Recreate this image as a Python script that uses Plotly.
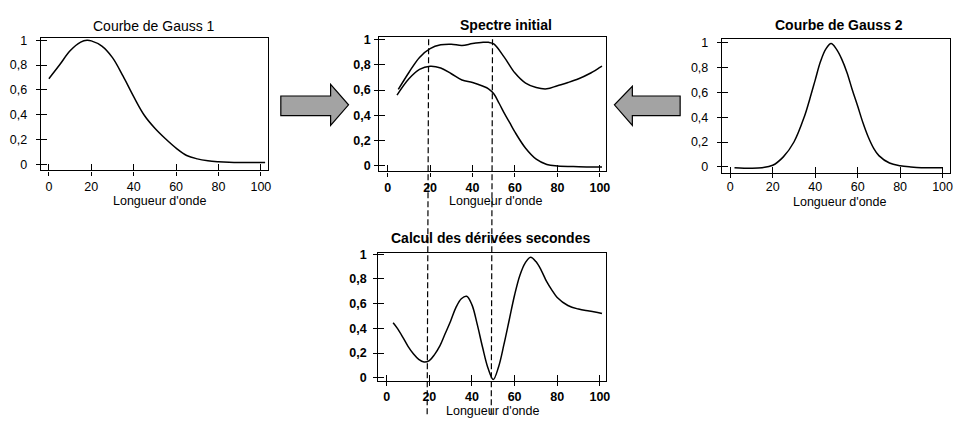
import plotly.graph_objects as go

# ---------------- data ----------------
gauss1_x = [0, 5, 10, 15, 18, 20, 25, 30, 35, 40, 45, 50, 55, 60, 65, 70, 75, 80, 85, 90, 95, 100, 102]
gauss1_y = [0.69, 0.80, 0.915, 0.985, 1.0, 0.995, 0.953, 0.86, 0.71, 0.545, 0.395, 0.29, 0.205, 0.13, 0.07, 0.043, 0.028, 0.02, 0.015, 0.013, 0.013, 0.013, 0.013]

spec_up_x = [5, 10, 15, 20, 25, 30, 35, 40, 45, 47.5, 50, 55, 60, 65, 70, 75, 80, 85, 90, 95, 100, 101]
spec_upper = [0.605, 0.74, 0.86, 0.93, 0.96, 0.965, 0.955, 0.97, 0.98, 0.98, 0.967, 0.86, 0.735, 0.655, 0.62, 0.61, 0.635, 0.66, 0.69, 0.73, 0.78, 0.79]
spec_lo_x = [4.4, 10, 15, 20, 25, 30, 35, 40, 45, 47.5, 50, 52.5, 55, 57.5, 60, 65, 70, 75, 80, 90, 100, 101]
spec_lower = [0.56, 0.69, 0.765, 0.79, 0.776, 0.73, 0.68, 0.66, 0.63, 0.61, 0.57, 0.495, 0.415, 0.34, 0.265, 0.137, 0.05, 0.008, -0.004, -0.01, -0.013, -0.013]

gauss2_x = [2, 10, 15, 20, 25, 30, 35, 37.5, 40, 42.5, 45, 47.5, 50, 52.5, 55, 57.5, 60, 62.5, 65, 67.5, 70, 75, 80, 85, 90, 100]
gauss2_y = [-0.008, -0.012, -0.008, 0.012, 0.08, 0.2, 0.41, 0.55, 0.70, 0.85, 0.95, 0.995, 0.95, 0.87, 0.76, 0.62, 0.49, 0.355, 0.24, 0.15, 0.09, 0.03, 0.008, -0.002, -0.008, -0.008]

deriv_x = [3, 5, 7.5, 10, 12.5, 15, 17.5, 20, 22.5, 25, 27.5, 30, 32.5, 35, 37.5, 40, 42.5, 45, 47.5, 50, 52.5, 55, 57.5, 60, 62.5, 65, 67.5, 70, 72.5, 75, 77.5, 80, 85, 90, 95, 100, 101]
deriv_y = [0.445, 0.40, 0.33, 0.255, 0.195, 0.15, 0.128, 0.14, 0.19, 0.26, 0.36, 0.46, 0.57, 0.64, 0.66, 0.59, 0.43, 0.245, 0.08, -0.013, 0.09, 0.27, 0.47, 0.67, 0.83, 0.93, 0.975, 0.94, 0.87, 0.78, 0.71, 0.65, 0.585, 0.556, 0.54, 0.525, 0.52]

dashed_top_x = [19.3, 49.4]
dashed_bottom_x = [18.6, 48.8]

x_tickvals = [0, 20, 40, 60, 80, 100]
x_ticktext = ["0", "20", "40", "60", "80", "100"]
y_tickvals = [0, 0.2, 0.4, 0.6, 0.8, 1]
y_ticktext = ["0", "0,2", "0,4", "0,6", "0,8", "1"]

titles = ["Courbe de Gauss 1", "Spectre initial", "Courbe de Gauss 2", "Calcul des dérivées secondes"]
xlabel = "Longueur d'onde"

# ---------------- layout helpers ----------------
W, H = 957, 421
def px(x):
    return x / W
def py(y):
    return 1 - y / H

FONT = "Liberation Sans, Arial, sans-serif"

# panels: (left, right, top, bottom) in px, xrange, yrange, bold ticks
panels = [
    dict(box=(41, 269, 34, 169), xr=[-3.8, 103.3], yr=[-0.05, 1.016], bold=False, standoff=6, xstand=0),
    dict(box=(381, 609, 33, 170), xr=[-3.9, 103.1], yr=[-0.047, 1.02], bold=True, standoff=1, xstand=0),
    dict(box=(725, 954, 35, 172), xr=[-3.9, 103.5], yr=[-0.053, 1.03], bold=False, standoff=6, xstand=-2),
    dict(box=(380, 609, 253, 384), xr=[-3.9, 103.1], yr=[-0.024, 1.013], bold=True, standoff=4, xstand=0),
]

fig = go.Figure()

series = [
    [(gauss1_x, gauss1_y)],
    [(spec_up_x, spec_upper), (spec_lo_x, spec_lower)],
    [(gauss2_x, gauss2_y)],
    [(deriv_x, deriv_y)],
]

layout = dict(
    width=W, height=H,
    margin=dict(l=0, r=0, t=0, b=0),
    paper_bgcolor="white", plot_bgcolor="white",
    showlegend=False,
    font=dict(family=FONT, color="black", size=12.5),
)

for i, p in enumerate(panels):
    n = i + 1
    m = i + 5
    sfx = "" if n == 1 else str(n)
    l, r, t, b = p["box"]
    tf = dict(family=FONT, size=12.5, color="black", weight="bold" if p["bold"] else "normal")
    layout["xaxis" + sfx] = dict(
        domain=[px(l), px(r)], anchor="y" + sfx, range=p["xr"],
        showline=True, linecolor="black", linewidth=1.3, mirror=True,
        ticks="outside", ticklen=4, tickwidth=1.3, tickcolor="black",
        tickvals=x_tickvals, ticktext=x_ticktext, tickfont=tf,
        ticklabelstandoff=p["xstand"],
        showgrid=False, zeroline=False, fixedrange=True,
    )
    layout["yaxis" + sfx] = dict(
        domain=[py(b), py(t)], anchor="x" + sfx, range=p["yr"],
        showline=True, linecolor="black", linewidth=1.3, mirror=True,
        ticks="outside", ticklen=4, tickwidth=1.3, tickcolor="black",
        tickvals=y_tickvals, ticktext=y_ticktext, tickfont=tf,
        ticklabelstandoff=p["standoff"],
        showgrid=False, zeroline=False, fixedrange=True,
    )
    # overlay axes for the inner half of the crossing ticks
    layout["xaxis" + str(m)] = dict(
        overlaying="x" + sfx, anchor="y" + str(m), range=p["xr"],
        showline=False, ticks="inside", ticklen=6, tickwidth=1.3, tickcolor="black",
        tickvals=x_tickvals, showticklabels=False,
        showgrid=False, zeroline=False, fixedrange=True,
    )
    layout["yaxis" + str(m)] = dict(
        overlaying="y" + sfx, anchor="x" + str(m), range=p["yr"],
        showline=False, ticks="inside", ticklen=6, tickwidth=1.3, tickcolor="black",
        tickvals=y_tickvals, showticklabels=False,
        showgrid=False, zeroline=False, fixedrange=True,
    )
    for xs, ys in series[i]:
        fig.add_trace(go.Scatter(
            x=xs, y=ys, mode="lines",
            line=dict(color="black", width=1.5, shape="spline", smoothing=1.0),
            xaxis="x" + sfx, yaxis="y" + sfx, hoverinfo="skip",
        ))
    fig.add_trace(go.Scatter(x=[None], y=[None], mode="lines",
                             xaxis="x" + str(m), yaxis="y" + str(m), hoverinfo="skip"))

fig.update_layout(**layout)

# ---------------- texts ----------------
title_pos = [(155, 21, False), (508, 20, True), (843, 20, True), (493, 238, True)]
xlabel_pos = [(160, 200), (498, 200), (843, 201), (495, 415)]
annotations = []
for (tx, ty, bold), text in zip(title_pos, titles):
    annotations.append(dict(
        x=px(tx), y=py(ty), xref="paper", yref="paper", text=text, showarrow=False,
        xanchor="center", yanchor="middle",
        font=dict(family=FONT, size=14, color="black", weight="bold" if bold else "normal"),
    ))
for lx, ly in xlabel_pos:
    annotations.append(dict(
        x=px(lx), y=py(ly), xref="paper", yref="paper", text=xlabel, showarrow=False,
        xanchor="center", yanchor="middle",
        font=dict(family=FONT, size=12.5, color="black"),
    ))
fig.update_layout(annotations=annotations)

# ---------------- shapes: dashed guide lines and arrows ----------------
shapes = []
for x_top, x_bot in zip(dashed_top_x, dashed_bottom_x):
    shapes.append(dict(
        type="line", xref="x2", yref="paper", x0=x_top, x1=x_bot,
        y0=py(35), y1=py(420),
        line=dict(color="black", width=1.2, dash="6px,3px"),
    ))

def arrow_path(pts):
    return "M " + " L ".join(f"{px(a):.5f},{py(b):.5f}" for a, b in pts) + " Z"

right_arrow = [(282, 93), (332, 93), (332, 81), (350, 102), (332, 123), (332, 113), (282, 113)]
left_arrow = [(683, 93), (635, 93), (635, 83), (617, 102), (635, 123), (635, 113), (683, 113)]
for pts in (right_arrow, left_arrow):
    shapes.append(dict(
        type="path", xref="paper", yref="paper", path=arrow_path(pts),
        fillcolor="#a3a3a3", line=dict(color="black", width=1.2),
    ))
fig.update_layout(shapes=shapes)

fig.write_html(
    "out.html",
    config={"displayModeBar": False},
    post_script="document.body.style.margin='0';document.body.style.overflow='hidden';",
)
